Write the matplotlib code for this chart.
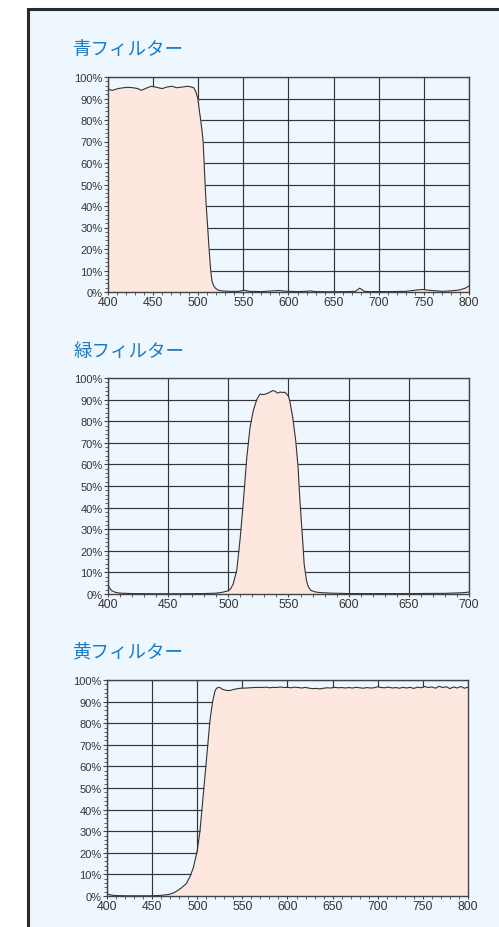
import numpy as np
import matplotlib.pyplot as plt
from matplotlib.patches import Rectangle
from matplotlib.ticker import MultipleLocator, FuncFormatter

# ===== DATA: transmittance (%) vs wavelength (nm) =====
blue_nm = [400, 405, 411, 417, 422, 428, 433, 437, 443, 448, 454, 460, 465, 471,
           476, 482, 488, 493, 495, 497, 498.5, 499.5, 501, 502.7, 504.2, 505.4,
           506.4, 507.5, 508.7, 510.3, 512.0, 513.8, 515.3, 517, 519, 522, 526,
           535, 545, 551, 557, 570, 582, 589, 596, 610, 618, 624, 630, 645, 665,
           674, 679, 684, 690, 710, 730, 740, 748, 756, 771, 782, 790, 796, 800]
blue_t = [94.3, 93.8, 94.6, 95.0, 95.2, 95.0, 94.6, 93.8, 94.9, 95.7, 95.2, 94.6,
          95.3, 95.7, 95.0, 95.3, 95.7, 95.3, 95.0, 93.5, 91.5, 90.0, 85.0, 80.0,
          75.0, 70.0, 61.0, 51.0, 41.0, 31.0, 20.0, 10.0, 5.0, 3.0, 1.8, 0.9, 0.5,
          0.3, 0.3, 0.8, 0.3, 0.2, 0.5, 0.7, 0.4, 0.2, 0.3, 0.5, 0.2, 0.1, 0.2,
          0.3, 1.8, 0.3, 0.2, 0.2, 0.3, 0.8, 1.2, 0.8, 0.3, 0.6, 1.0, 1.8, 2.8]

green_nm = [400, 401, 403, 406, 410, 420, 450, 480, 490, 495, 500, 502, 504, 507,
            509.7, 512.5, 515.3, 518, 520.8, 523.6, 526.4, 529, 531, 533, 535,
            537, 539, 541, 543, 545, 547, 548.5, 550, 551, 553.5, 556, 558, 559,
            560.5, 562, 563, 565, 566.5, 568.5, 572, 575.4, 585, 600, 650, 680,
            695, 700]
green_t = [4.5, 3.0, 1.6, 0.8, 0.4, 0.2, 0.1, 0.2, 0.4, 0.8, 1.5, 2.5, 4.6, 11.0,
           25.0, 43.0, 63.0, 77.0, 85.0, 90.0, 92.6, 92.3, 92.6, 93.0, 93.6, 94.2,
           93.8, 93.0, 93.5, 93.3, 93.4, 92.6, 91.5, 89.5, 81.8, 71.0, 58.6, 47.8,
           35.0, 23.0, 13.9, 6.0, 3.3, 1.7, 1.0, 0.7, 0.4, 0.2, 0.2, 0.3, 0.6, 0.9]

yellow_nm = [400, 402, 405, 410, 420, 450, 460, 468, 473, 477, 482, 488, 492,
             495.6, 500, 503, 506.7, 510.4, 514, 517, 519.7, 521.5, 523.4, 525.5,
             528, 531, 534, 537, 540, 543.7, 548, 554.8, 562, 568]
yellow_t = [1.0, 0.7, 0.4, 0.2, 0.1, 0.1, 0.3, 0.7, 1.3, 2.2, 3.6, 5.8, 9.0, 13.0,
            21.0, 30.0, 47.0, 64.0, 81.0, 90.0, 95.0, 96.2, 96.6, 96.4, 95.7, 95.3,
            95.1, 95.2, 95.6, 95.9, 96.2, 96.3, 96.5, 96.6]
# measured plateau of the yellow filter, sampled every 4 nm
yellow_tail_nm = np.arange(572, 801, 4)
yellow_tail_t = [96.5, 96.7, 96.4, 96.6, 96.5, 96.8, 96.5, 96.6,
                 96.4, 96.7, 96.5, 96.3, 96.6, 96.2, 96.0, 96.1,
                 95.9, 96.2, 96.4, 96.3, 96.6, 96.4, 96.5, 96.3,
                 96.5, 96.3, 96.6, 96.4, 96.2, 96.5, 96.3, 96.4,
                 96.9, 96.5, 96.4, 96.7, 96.3, 96.5, 96.2, 96.6,
                 96.3, 96.6, 96.1, 96.7, 96.4, 97.0, 96.5, 96.8,
                 96.2, 97.1, 96.5, 96.9, 96.0, 96.8, 96.3, 97.0,
                 96.2, 96.7]

titles = ["青フィルター", "緑フィルター", "黄フィルター"]
x_ranges = [(400, 800), (400, 700), (400, 800)]

# ===== STYLE =====
BG = "#eef7fe"
FILL = "#fde7de"
INK = "#333333"
TITLE_BLUE = "#1b7bc6"
plt.rcParams["font.family"] = ["Liberation Sans", "DejaVu Sans"]

W, H = 499, 928
fig = plt.figure(figsize=(W / 100, H / 100), dpi=100)
fig.patch.set_facecolor("white")

# light blue panel with dark border (runs off the right and bottom edges)
fig.patches.append(Rectangle((28 / W, -0.05), 1.2, 1.05 - 10 / H,
                             transform=fig.transFigure, facecolor=BG,
                             edgecolor="#2a2a2a", linewidth=2.2, zorder=-5))

# axes boxes in pixels: left, top, right, bottom
boxes = [(108, 78, 469, 293), (108, 379, 469, 595), (107, 681, 468, 897)]
title_y = [50, 352, 653]

series = [
    (blue_nm, blue_t),
    (green_nm, green_t),
    (list(yellow_nm) + list(yellow_tail_nm), list(yellow_t) + list(yellow_tail_t)),
]

for (l, t, r, b), ty, title, (x0, x1), (wl, tr) in zip(boxes, title_y, titles, x_ranges, series):
    ax = fig.add_axes([l / W, 1 - b / H, (r - l) / W, (b - t) / H])
    ax.set_facecolor(BG)
    ax.set_axisbelow(True)

    ax.fill_between(wl, 0, tr, color=FILL, linewidth=0, zorder=1)
    ax.plot(wl, tr, color=INK, linewidth=0.8, zorder=2)

    ax.set_xlim(x0, x1)
    ax.set_ylim(0, 100)
    ax.xaxis.set_major_locator(MultipleLocator(50))
    ax.xaxis.set_minor_locator(MultipleLocator(10))
    ax.yaxis.set_major_locator(MultipleLocator(10))
    ax.yaxis.set_minor_locator(MultipleLocator(2))
    ax.yaxis.set_major_formatter(FuncFormatter(lambda v, p: f"{v:.0f}%"))

    ax.grid(True, which="major", color="#353535", linewidth=0.85)
    ax.tick_params(axis="both", which="both", direction="out", color="#444444",
                   labelcolor=INK)
    ax.tick_params(axis="x", which="major", length=2.5, width=0.8, pad=0.6,
                   labelsize=8.8)
    ax.tick_params(axis="x", which="minor", length=2.0, width=0.6)
    ax.tick_params(axis="y", which="major", length=3.0, width=0.8, pad=1.0,
                   labelsize=8.0)
    ax.tick_params(axis="y", which="minor", length=2.0, width=0.6)
    for sp in ax.spines.values():
        sp.set_color("#444444")
        sp.set_linewidth(1.0)

    fig.text(73 / W, 1 - ty / H, title, color=TITLE_BLUE, fontsize=13.3,
             family=["Noto Sans CJK JP", "DejaVu Sans"], va="center", ha="left")

fig.savefig("out.png", dpi=100, facecolor=fig.get_facecolor())
